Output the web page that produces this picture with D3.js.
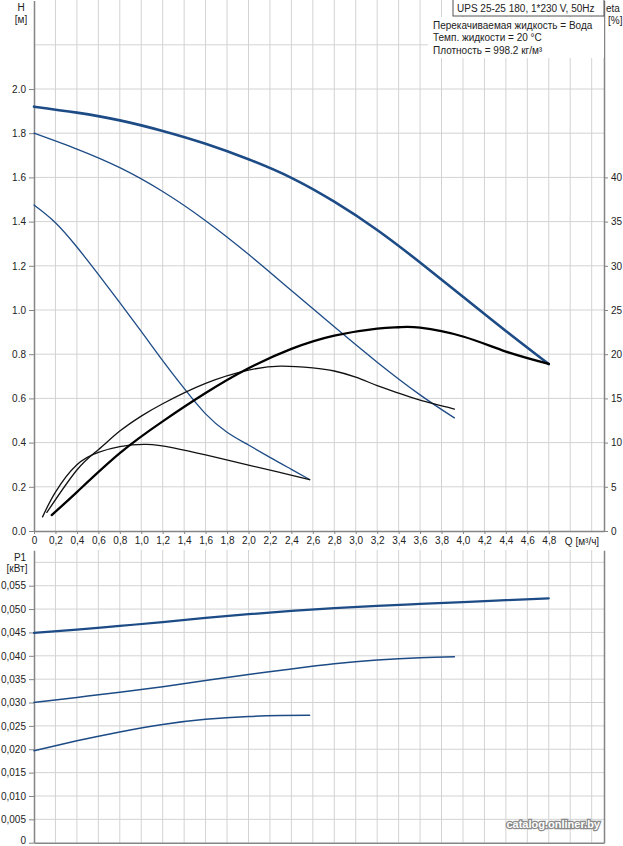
<!DOCTYPE html>
<html><head><meta charset="utf-8">
<script src="https://cdn.jsdelivr.net/npm/d3@7"></script>
<style>
html,body{margin:0;padding:0;background:#fff;}
svg{display:block;font-family:"Liberation Sans",Arial,sans-serif;}
</style></head>
<body>
<svg id="c" width="623" height="846"></svg>
<script>
// ---- data ----
const qTicks = [0,0.2,0.4,0.6,0.8,1.0,1.2,1.4,1.6,1.8,2.0,2.2,2.4,2.6,2.8,3.0,3.2,3.4,3.6,3.8,4.0,4.2,4.4,4.6,4.8];
const qGrid = [0.2,0.4,0.6,0.8,1.0,1.2,1.4,1.6,1.8,2.0,2.2,2.4,2.6,2.8,3.0,3.2,3.4,3.6,3.8,4.0,4.2,4.4,4.6,4.8,5.0,5.2];
const hTicks = [0,0.2,0.4,0.6,0.8,1.0,1.2,1.4,1.6,1.8,2.0];
const hGrid = [0.2,0.4,0.6,0.8,1.0,1.2,1.4,1.6,1.8,2.0,2.2];
const etaTicks = [0,5,10,15,20,25,30,35,40];
const pTicks = [0,0.005,0.010,0.015,0.020,0.025,0.030,0.035,0.040,0.045,0.050,0.055];
const pGrid = [0.005,0.010,0.015,0.020,0.025,0.030,0.035,0.040,0.045,0.050,0.055,0.060];

// H curves (Q m3/h, H m)
const h3Q = [0,0.4,0.8,1.2,1.6,2.0,2.4,2.8,3.2,3.6,4.0,4.4,4.8];
const h3H = [1.920,1.893,1.858,1.810,1.752,1.682,1.598,1.490,1.362,1.215,1.060,0.905,0.755];
const h2Q = [0,0.4,0.8,1.2,1.6,2.0,2.4,2.8,3.2,3.6,3.92];
const h2H = [1.800,1.728,1.644,1.536,1.404,1.252,1.088,0.924,0.764,0.616,0.512];
const h1Q = [0,0.2,0.4,0.6,0.8,1.0,1.2,1.4,1.6,1.8,2.0,2.2,2.4,2.57];
const h1H = [1.475,1.395,1.285,1.161,1.033,0.903,0.771,0.645,0.530,0.447,0.389,0.333,0.279,0.233];

// efficiency curves (Q m3/h, eta %)
const e3Q = [0.165,0.4,0.8,1.2,1.6,2.0,2.4,2.8,3.2,3.4,3.6,4.0,4.4,4.8];
const e3E = [1.8,4.4,8.8,12.4,15.6,18.4,20.6,22.1,22.9,23.05,23.0,22.0,20.3,18.9];
const e2Q = [0.12,0.4,0.6,0.8,1.0,1.2,1.6,2.0,2.3,2.6,2.8,3.0,3.2,3.4,3.6,3.92];
const e2E = [2.1,6.9,9.2,11.3,13.0,14.4,16.7,18.2,18.65,18.45,18.1,17.4,16.45,15.6,14.8,13.8];
const e1Q = [0.08,0.2,0.4,0.6,0.8,1.05,1.3,1.6,2.0,2.3,2.57];
const e1E = [1.6,4.4,7.5,8.9,9.55,9.8,9.4,8.6,7.45,6.6,5.8];

// power curves (Q m3/h, P1 kW)
const p3Q = [0,0.4,0.8,1.2,1.6,2.0,2.4,2.8,3.2,3.6,4.0,4.4,4.8];
const p3P = [0.0449,0.0456,0.0464,0.0472,0.0481,0.0489,0.0496,0.0502,0.0507,0.0511,0.0515,0.0519,0.0523];
const p2Q = [0,0.4,0.8,1.2,1.6,2.0,2.4,2.8,3.2,3.6,3.92];
const p2P = [0.0300,0.0311,0.0322,0.0334,0.0347,0.0360,0.0372,0.0383,0.0391,0.0396,0.0398];
const p1Q = [0,0.4,0.8,1.2,1.6,2.0,2.3,2.57];
const p1P = [0.0197,0.0218,0.0237,0.0253,0.0264,0.0270,0.0272,0.0273];

const legendLines = ["Перекачиваемая жидкость = Вода","Темп. жидкости = 20 °C","Плотность = 998.2 кг/м³"];
const titleText = "UPS 25-25 180, 1*230 V, 50Hz";

// ---- scales ----
const L = 34, R = 604;
const x = d3.scaleLinear().domain([0,5.315]).range([L,R]);
const yH = d3.scaleLinear().domain([0,2.4]).range([531,0.6]);
const yE = d3.scaleLinear().domain([0,60]).range([531,0.6]);
const yP = d3.scaleLinear().domain([0,0.0626]).range([842.7,550.2]);

const svg = d3.select("#c");
const gridC = "#d3d3d3", axisC = "#858585", txtC = "#222";
const blue = "#1d4b86";
const fs = 10;
const ff = '"Liberation Sans",Arial,sans-serif';

// ---- top chart grid ----
const gTop = svg.append("g");
gTop.selectAll("line.vg").data(qGrid).join("line").attr("class","vg")
  .attr("x1",d=>x(d)).attr("x2",d=>x(d)).attr("y1",0).attr("y2",531)
  .attr("stroke",gridC).attr("stroke-width",1);
gTop.selectAll("line.hg").data(hGrid).join("line").attr("class","hg")
  .attr("x1",L).attr("x2",R).attr("y1",d=>yH(d)).attr("y2",d=>yH(d))
  .attr("stroke",gridC).attr("stroke-width",1);

// ---- bottom chart grid ----
const gBot = svg.append("g");
gBot.selectAll("line.vg").data(qGrid).join("line").attr("class","vg")
  .attr("x1",d=>x(d)).attr("x2",d=>x(d)).attr("y1",550).attr("y2",842.7)
  .attr("stroke",gridC).attr("stroke-width",1);
gBot.selectAll("line.hg").data(pGrid).join("line").attr("class","hg")
  .attr("x1",L).attr("x2",R).attr("y1",d=>yP(d)).attr("y2",d=>yP(d))
  .attr("stroke",gridC).attr("stroke-width",1);

// ---- axes ----
const fmtQ = d => d===0 ? "0" : d3.format(".1f")(d).replace(".",",");
const fmtH = d => d3.format(".1f")(d);
const fmtP = d => d===0 ? "0" : d3.format(".3f")(d).replace(".",",");

function styleAxis(g){
  g.select(".domain").attr("stroke",axisC).attr("stroke-width",1.5);
  g.selectAll(".tick line").attr("stroke",axisC);
  g.selectAll(".tick text").attr("fill",txtC).style("font-size",fs+"px").style("font-family",ff);
}
svg.append("g").attr("transform","translate(0,531)")
  .call(d3.axisBottom(x).tickValues(qTicks).tickFormat(fmtQ).tickSizeInner(3).tickSizeOuter(0).tickPadding(3))
  .call(styleAxis);
svg.append("g").attr("transform",`translate(${L},0)`)
  .call(d3.axisLeft(yH).tickValues(hTicks).tickFormat(fmtH).tickSizeInner(5).tickSizeOuter(0).tickPadding(3))
  .call(styleAxis);
svg.append("g").attr("transform",`translate(${R},0)`)
  .call(d3.axisRight(yE).tickValues(etaTicks).tickSizeInner(4).tickSizeOuter(0).tickPadding(3))
  .call(styleAxis);
const pAxis = svg.append("g").attr("transform",`translate(${L},0)`)
  .call(d3.axisLeft(yP).tickValues(pTicks).tickFormat(fmtP).tickSizeInner(5).tickSizeOuter(0).tickPadding(3))
  .call(styleAxis);
pAxis.selectAll(".tick text").filter(d=>d===0).attr("dy","0.1em");
svg.append("g").attr("transform",`translate(${R},0)`)
  .call(d3.axisRight(yP).tickValues([]).tickSizeOuter(0))
  .call(styleAxis);
svg.append("g").attr("transform","translate(0,842.7)")
  .call(d3.axisBottom(x).tickValues([]).tickSizeOuter(0))
  .call(styleAxis);

// ---- curves ----
const zip = (a,b)=>a.map((v,i)=>[v,b[i]]);
const cv = d3.curveNatural;
const lineH = d3.line().x(d=>x(d[0])).y(d=>yH(d[1])).curve(cv);
const lineE = d3.line().x(d=>x(d[0])).y(d=>yE(d[1])).curve(cv);
const lineP = d3.line().x(d=>x(d[0])).y(d=>yP(d[1])).curve(cv);

const curves = [
  {d:lineH(zip(h1Q,h1H)), c:blue, w:1.3},
  {d:lineH(zip(h2Q,h2H)), c:blue, w:1.3},
  {d:lineE(zip(e1Q,e1E)), c:"#111", w:1.3},
  {d:lineE(zip(e2Q,e2E)), c:"#111", w:1.3},
  {d:lineH(zip(h3Q,h3H)), c:blue, w:2.6},
  {d:lineE(zip(e3Q,e3E)), c:"#000", w:2.3},
  {d:lineP(zip(p1Q,p1P)), c:blue, w:1.5},
  {d:lineP(zip(p2Q,p2P)), c:blue, w:1.5},
  {d:lineP(zip(p3Q,p3P)), c:blue, w:2.2}
];
svg.append("g").selectAll("path").data(curves).join("path")
  .attr("d",d=>d.d).attr("fill","none").attr("stroke",d=>d.c).attr("stroke-width",d=>d.w)
  .attr("stroke-linecap","round").attr("stroke-linejoin","round");

// ---- labels ----
function txt(t,xx,yy,anchor){
  return svg.append("text").attr("x",xx).attr("y",yy).attr("text-anchor",anchor||"middle")
    .attr("fill",txtC).style("font-size",fs+"px").style("font-family",ff).text(t);
}
txt("H",21,11); txt("[м]",21,23);
txt("P1",20,561); txt("[кВт]",17,572);
txt("Q [м³/ч]",582,545);
txt("eta",606,12,"start"); txt("[%]",608,24,"start");

// legend background and title box
svg.append("rect").attr("x",428).attr("y",17).attr("width",R-428).attr("height",41).attr("fill","#fff");
svg.append("rect").attr("x",453).attr("y",-1).attr("width",R-453).attr("height",17)
  .attr("fill","#fff").attr("stroke","#555").attr("stroke-width",1);
txt(titleText,457,12,"start");
legendLines.forEach((t,i)=>txt(t,433,29+i*12.3,"start"));

// watermark
svg.append("text").attr("x",600).attr("y",828).attr("text-anchor","end")
  .style("font-size","11px").style("font-weight","bold").style("font-family",ff)
  .attr("fill","#fff").attr("stroke","#8a8a8a").attr("stroke-width",2.5)
  .attr("paint-order","stroke").text("catalog.onliner.by");
</script>
</body></html>
